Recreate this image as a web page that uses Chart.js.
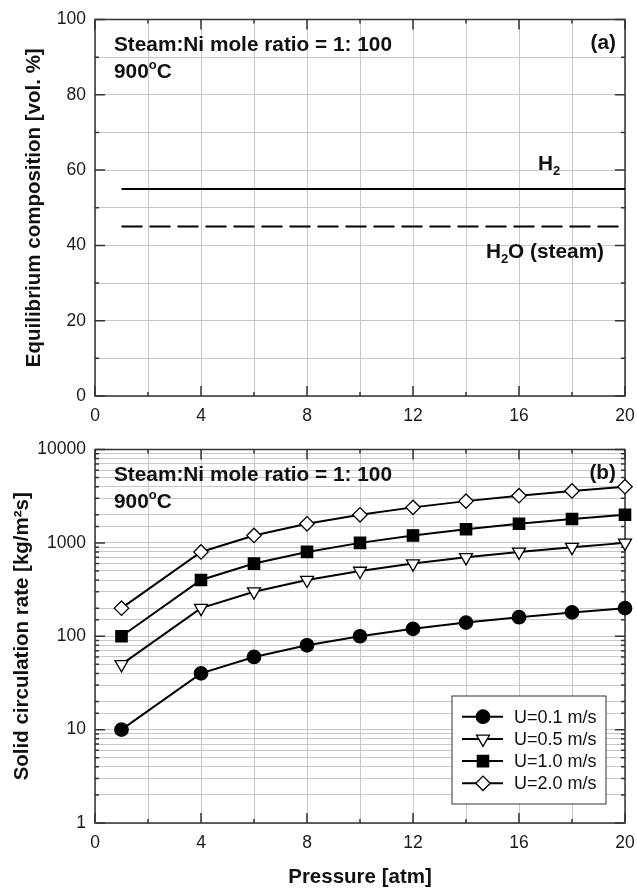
<!DOCTYPE html>
<html>
<head>
<meta charset="utf-8">
<script src="https://cdn.jsdelivr.net/npm/chart.js@4.4.1/dist/chart.umd.min.js"></script>
<style>
  body { margin: 0; background: #fff; }
  #wrap { position: relative; width: 637px; height: 890px; }
  canvas { position: absolute; left: 0; }
  #chartA { top: 0; }
  #chartB { top: 430px; }
</style>
</head>
<body>
<div id="wrap">
  <canvas id="chartA" width="637" height="430"></canvas>
  <canvas id="chartB" width="637" height="460"></canvas>
</div>
<script>
// panel (a): equilibrium composition
var compPressure = [1, 20];
var compH2 = [55, 55];
var compH2O = [45, 45];

// panel (b): solid circulation rate
var pressure = [1, 4, 6, 8, 10, 12, 14, 16, 18, 20];
var rateU01 = [10, 40, 60, 80, 100, 120, 140, 160, 180, 200];
var rateU05 = [50, 200, 300, 400, 500, 600, 700, 800, 900, 1000];
var rateU10 = [100, 400, 600, 800, 1000, 1200, 1400, 1600, 1800, 2000];
var rateU20 = [200, 800, 1200, 1600, 2000, 2400, 2800, 3200, 3600, 4000];
var seriesNames = ['U=0.1 m/s', 'U=0.5 m/s', 'U=1.0 m/s', 'U=2.0 m/s'];

// tick labels
var xTickLabels = [0, 4, 8, 12, 16, 20];
var yTickLabelsA = [0, 20, 40, 60, 80, 100];
var yTickLabelsB = [1, 10, 100, 1000, 10000];

var FONT = "'Liberation Sans', Arial, Helvetica, sans-serif";
Chart.defaults.font.family = FONT;
Chart.defaults.color = '#1a1a1a';

function pts(xs, ys) {
    return xs.map(function (x, i) { return { x: x, y: ys[i] }; });
}

// draws text pieces with sub / superscripts, left aligned, baseline middle
function richText(ctx, parts, x, y, size) {
    ctx.textBaseline = 'middle';
    ctx.textAlign = 'left';
    parts.forEach(function (p) {
        var s = p.sub || p.sup ? Math.round(size * 0.62) : size;
        ctx.font = 'bold ' + s + 'px ' + FONT;
        var dy = p.sub ? size * 0.35 : (p.sup ? -size * 0.35 : 0);
        ctx.fillText(p.t, x, y + dy);
        x += ctx.measureText(p.t).width;
    });
}

function makeFrame(isMajorX, isMajorY, drawExtra) {
    return {
        id: 'frame',
        beforeDatasetsDraw: function (chart) {
            var ctx = chart.ctx, a = chart.chartArea;
            var x = chart.scales.x, y = chart.scales.y;
            ctx.save();
            ctx.strokeStyle = '#333';
            ctx.lineWidth = 1.5;
            ctx.beginPath();
            x.ticks.forEach(function (t) {
                var px = x.getPixelForValue(t.value);
                var len = isMajorX(t.value) ? 10 : 4;
                ctx.moveTo(px, a.bottom); ctx.lineTo(px, a.bottom - len);
                ctx.moveTo(px, a.top); ctx.lineTo(px, a.top + len);
            });
            y.ticks.forEach(function (t) {
                var py = y.getPixelForValue(t.value);
                var len = isMajorY(t.value) ? 10 : 4;
                ctx.moveTo(a.left, py); ctx.lineTo(a.left + len, py);
                ctx.moveTo(a.right, py); ctx.lineTo(a.right - len, py);
            });
            ctx.stroke();
            ctx.strokeRect(a.left, a.top, a.right - a.left, a.bottom - a.top);
            ctx.restore();
        },
        afterDraw: function (chart) {
            var ctx = chart.ctx;
            ctx.save();
            ctx.fillStyle = '#111';
            drawExtra(chart, ctx);
            ctx.restore();
        }
    };
}

function conditions(ctx, a, tag) {
    richText(ctx, [{ t: 'Steam:Ni mole ratio = 1: 100' }], a.left + 19, a.top + 26, 20.8);
    richText(ctx, [{ t: '900' }, { t: 'o', sup: true }, { t: 'C' }], a.left + 19, a.top + 53, 20.8);
    ctx.font = 'bold 20.8px ' + FONT;
    ctx.textAlign = 'right';
    ctx.fillText(tag, a.right - 9, a.top + 24);
}

function xScale(height, withTitle) {
    return {
        type: 'linear', min: 0, max: 20,
        ticks: {
            stepSize: 2, autoSkip: false, maxRotation: 0, padding: 10,
            font: { size: 17.5 }, color: '#1a1a1a',
            callback: function (v) { return xTickLabels.indexOf(v) >= 0 ? String(v) : ''; }
        },
        grid: { color: '#c8c8c8', lineWidth: 1, drawTicks: false },
        border: { display: false },
        title: withTitle ? {
            display: true, text: 'Pressure [atm]', color: '#111',
            font: { size: 20.5, weight: 'bold' }, padding: { top: 0, bottom: 0 }
        } : { display: false },
        afterFit: function (s) {
            s.height = height;
            s.paddingLeft = 0;
            s.paddingRight = 0;
        }
    };
}

var isMajorX = function (v) { return xTickLabels.indexOf(v) >= 0; };

// ---------- panel (a)
new Chart(document.getElementById('chartA'), {
    type: 'scatter',
    data: {
        datasets: [{
            label: 'H2',
            data: pts(compPressure, compH2),
            showLine: true, borderColor: '#000', borderWidth: 2,
            pointRadius: 0, clip: false
        }, {
            label: 'H2O (steam)',
            data: pts(compPressure, compH2O),
            showLine: true, borderColor: '#000', borderWidth: 2, borderDash: [21, 7],
            pointRadius: 0, clip: false
        }]
    },
    options: {
        responsive: false, animation: false,
        layout: { padding: { top: 14, right: 12, left: 0, bottom: 0 } },
        plugins: { legend: { display: false }, tooltip: { enabled: false } },
        scales: {
            x: xScale(34, false),
            y: {
                type: 'linear', min: 0, max: 100,
                ticks: {
                    stepSize: 10, autoSkip: false, padding: 9,
                    font: { size: 17.5 }, color: '#1a1a1a',
                    callback: function (v) { return yTickLabelsA.indexOf(v) >= 0 ? String(v) : ''; }
                },
                grid: { color: '#c8c8c8', lineWidth: 1, drawTicks: false },
                border: { display: false },
                title: {
                    display: true, text: 'Equilibrium composition [vol. %]', color: '#111',
                    font: { size: 20.5, weight: 'bold' }, padding: { top: 22, bottom: 0 }
                },
                afterFit: function (s) { s.width = 95; }
            }
        }
    },
    plugins: [makeFrame(isMajorX, function (v) { return yTickLabelsA.indexOf(v) >= 0; }, function (chart, ctx) {
        var a = chart.chartArea, x = chart.scales.x, y = chart.scales.y;
        conditions(ctx, a, '(a)');
        richText(ctx, [{ t: 'H' }, { t: '2', sub: true }], x.getPixelForValue(16.72), y.getPixelForValue(61.5), 20.8);
        richText(ctx, [{ t: 'H' }, { t: '2', sub: true }, { t: 'O (steam)' }], x.getPixelForValue(14.75), y.getPixelForValue(38.2), 20.8);
    })]
});

// ---------- panel (b)
var styles = [
    { pointStyle: 'circle', radius: 6.7, rotation: 0, fill: '#000' },
    { pointStyle: 'triangle', radius: 7.5, rotation: 180, fill: '#fff' },
    { pointStyle: 'rect', radius: 8, rotation: 0, fill: '#000' },
    { pointStyle: 'rectRot', radius: 7.2, rotation: 0, fill: '#fff' }
];
var rates = [rateU01, rateU05, rateU10, rateU20];

new Chart(document.getElementById('chartB'), {
    type: 'scatter',
    data: {
        datasets: rates.map(function (r, i) {
            return {
                label: seriesNames[i],
                data: pts(pressure, r),
                showLine: true, borderColor: '#000', borderWidth: 2,
                pointStyle: styles[i].pointStyle, pointRadius: styles[i].radius,
                pointRotation: styles[i].rotation,
                pointBackgroundColor: styles[i].fill, pointBorderColor: '#000', pointBorderWidth: 1.3,
                clip: false
            };
        })
    },
    options: {
        responsive: false, animation: false,
        layout: { padding: { top: 11, right: 12, left: 0, bottom: 0 } },
        plugins: { legend: { display: false }, tooltip: { enabled: false } },
        scales: {
            x: xScale(67, true),
            y: {
                type: 'logarithmic', min: 1, max: 10000,
                ticks: {
                    autoSkip: false, padding: 9,
                    font: { size: 17.5 }, color: '#1a1a1a',
                    callback: function (v) { return yTickLabelsB.indexOf(v) >= 0 ? String(v) : ''; }
                },
                grid: { color: '#c8c8c8', lineWidth: 1, drawTicks: false },
                border: { display: false },
                title: {
                    display: true, text: 'Solid circulation rate [kg/m\u00B2s]', color: '#111',
                    font: { size: 20.5, weight: 'bold' }, padding: { top: 10, bottom: 0 }
                },
                afterFit: function (s) { s.width = 95; }
            }
        }
    },
    plugins: [makeFrame(isMajorX, function (v) { return yTickLabelsB.indexOf(v) >= 0; }, function (chart, ctx) {
        var a = chart.chartArea;
        conditions(ctx, a, '(b)');
        // legend box
        var bw = 154, bh = 108;
        var bx = a.right - 19 - bw, by = a.bottom - 19 - bh;
        ctx.fillStyle = '#fff';
        ctx.fillRect(bx, by, bw, bh);
        ctx.strokeStyle = '#333';
        ctx.lineWidth = 1;
        ctx.strokeRect(bx, by, bw, bh);
        chart.data.datasets.forEach(function (ds, i) {
            var ry = by + 20.7 + i * 22.2;
            ctx.strokeStyle = '#000';
            ctx.lineWidth = 2;
            ctx.beginPath();
            ctx.moveTo(bx + 10, ry);
            ctx.lineTo(bx + 51, ry);
            ctx.stroke();
            ctx.fillStyle = styles[i].fill;
            ctx.lineWidth = 1.3;
            Chart.helpers.drawPoint(ctx, {
                pointStyle: styles[i].pointStyle, radius: styles[i].radius,
                rotation: styles[i].rotation, borderWidth: 1.3
            }, bx + 31, ry);
            ctx.fillStyle = '#111';
            ctx.font = '18px ' + FONT;
            ctx.textAlign = 'left';
            ctx.textBaseline = 'middle';
            ctx.fillText(ds.label, bx + 62, ry + 1);
        });
    })]
});
</script>
</body>
</html>
